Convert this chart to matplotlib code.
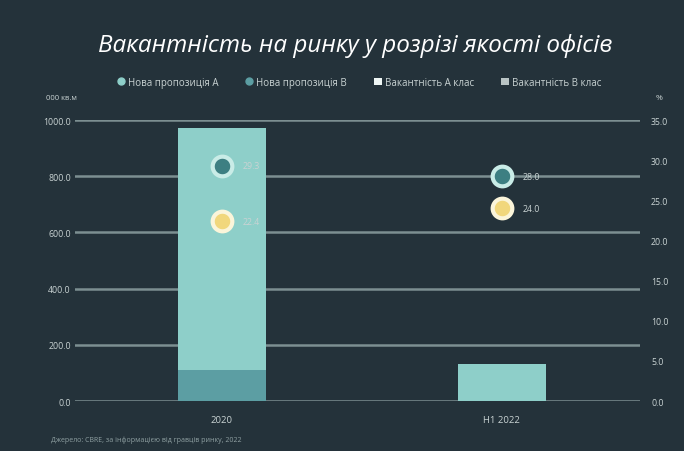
import numpy as np
import matplotlib.pyplot as plt
from matplotlib.lines import Line2D
from matplotlib.patches import Patch

periods = ["2020", "H1 2022"]
supply_a = [860, 132]      # нова пропозиція A, тис. кв.м
supply_b = [110, 0]        # нова пропозиція B, тис. кв.м
vacancy_a = [29.3, 28.0]   # вакантність A, %
vacancy_b = [22.4, 24.0]   # вакантність B, %
left_ticks = [0, 200, 400, 600, 800, 1000]
right_ticks = [0, 5, 10, 15, 20, 25, 30, 35]
legend_labels = ["Нова пропозиція A", "Нова пропозиція B",
                 "Вакантність A клас", "Вакантність B клас"]

bg = "#24323a"
grid_col = "#7c8f91"
txt = "#c9d3d3"
col_a = "#8ecfc9"
col_b = "#5c9ea3"
dot_a = "#3d7f82"
dot_b = "#f1d77c"

plt.rcParams['font.family'] = ['Open Sans', 'DejaVu Sans']

fig = plt.figure(figsize=(6.84, 4.52), dpi=100, facecolor=bg)
ax = fig.add_axes([0.1096, 0.1106, 0.826, 0.6217], facecolor=bg)
ax2 = ax.twinx()

x = np.arange(len(periods))
w = 0.315
ax.bar(x, supply_b, w, color=col_b, zorder=3)
ax.bar(x, supply_a, w, bottom=supply_b, color=col_a, zorder=3)

ax.set_ylim(0, 1000)
ax.set_xlim(-0.525, 1.493)
ax.set_yticks(left_ticks)
ax.set_yticklabels([f"{v:.1f}" for v in left_ticks], color=txt, fontsize=6.3)
for yv in left_ticks:
    ax.axhline(yv, color=grid_col, lw=1.8, zorder=1)
ax.set_xticks(x)
ax.set_xticklabels(periods, color=txt, fontsize=6.8)
ax.tick_params(axis="y", length=0, pad=3)
ax.tick_params(axis="x", length=0, pad=10)

ax2.set_ylim(0, 35)
ax2.set_yticks(right_ticks)
ax2.set_yticklabels([f"{v:.1f}" for v in right_ticks], color=txt, fontsize=6.3)
ax2.tick_params(length=0, pad=8)
ax2.set_zorder(ax.get_zorder() + 1)

ax2.scatter(x, vacancy_a, s=200, color=dot_a, edgecolors="#c9ece7",
            linewidths=3, zorder=5)
ax2.scatter(x, vacancy_b, s=200, color=dot_b, edgecolors="#fbf5da",
            linewidths=3, zorder=5)
for xi, va, vb in zip(x, vacancy_a, vacancy_b):
    ax2.text(xi + 0.075, va, f"{va:.1f}", color=txt, fontsize=6.3, va="center")
    ax2.text(xi + 0.075, vb, f"{vb:.1f}", color=txt, fontsize=6.3, va="center")

for a in (ax, ax2):
    for s in a.spines.values():
        s.set_visible(False)

fig.text(0.112, 0.778, "000 кв.м", color=txt, fontsize=5.5, ha="right")
fig.text(0.963, 0.778, "%", color=txt, fontsize=6, ha="center")

fig.text(0.52, 0.898, "Вакантність на ринку у розрізі якості офісів",
         color="white", fontsize=17.5, style="italic", ha="center", va="center")

handles = [
    Line2D([], [], marker="o", ls="", color=col_a, markersize=5),
    Line2D([], [], marker="o", ls="", color=col_b, markersize=5),
    Patch(facecolor="#eef6f4", edgecolor="none"),
    Patch(facecolor="#b9c4c4", edgecolor="none"),
]
fig.legend(handles, legend_labels, loc="center", bbox_to_anchor=(0.525, 0.816),
           ncol=4, frameon=False, fontsize=7, labelcolor=txt,
           handlelength=0.8, handletextpad=0.3, columnspacing=2.8)

fig.text(0.075, 0.022, "Джерело: CBRE, за інформацією від гравців ринку, 2022",
         color="#8fa0a2", fontsize=5)

fig.savefig("out.png", dpi=100, facecolor=bg)
